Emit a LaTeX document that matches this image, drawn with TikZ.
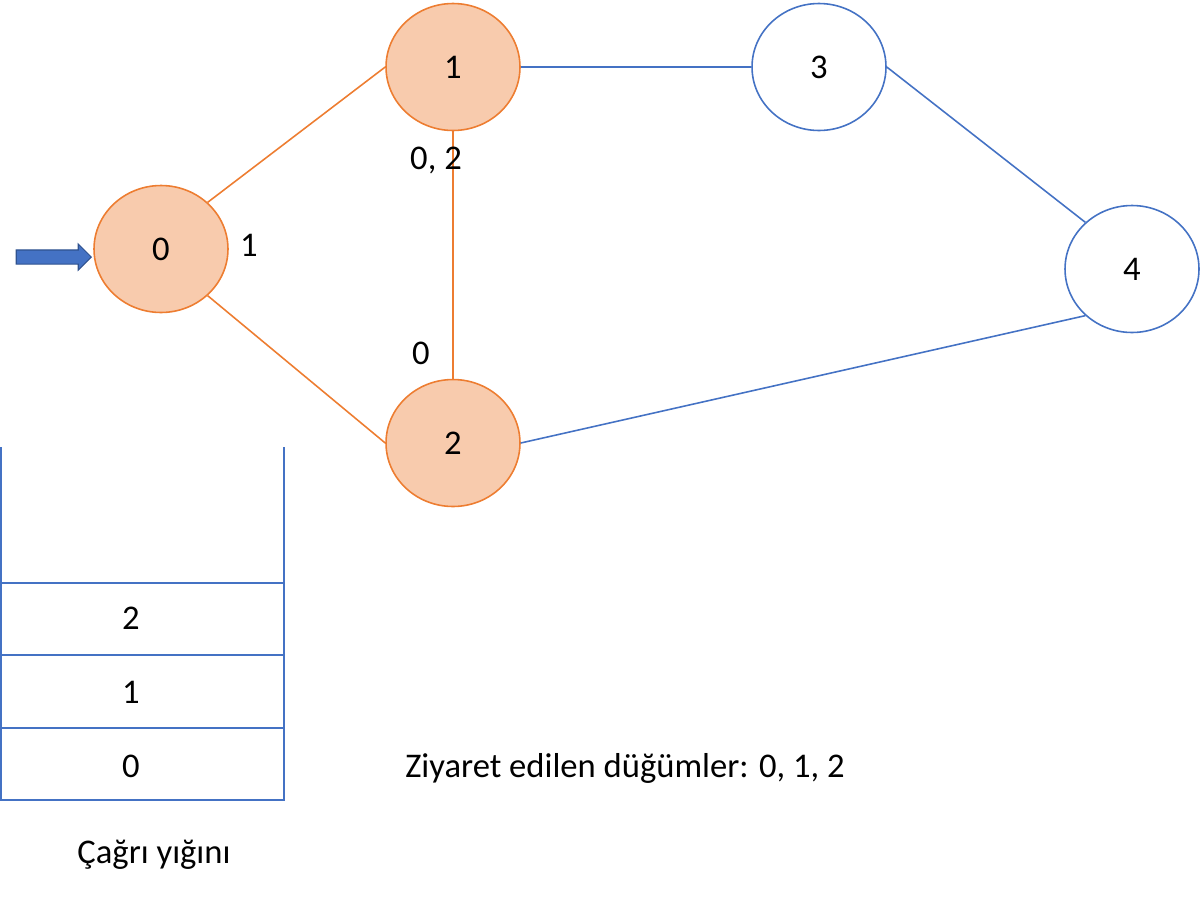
\documentclass[tikz,border=0pt]{standalone}
\usepackage{fontspec}
\setmainfont{Carlito}
\usetikzlibrary{shapes.geometric,shapes.arrows}
\definecolor{orline}{HTML}{ED7D31}
\definecolor{orfill}{HTML}{F8CBAD}
\definecolor{blline}{HTML}{4472C4}
\definecolor{bldark}{HTML}{2F528F}
\tikzset{
  visited/.style={ellipse,draw=orline,fill=orfill,line width=0.9pt,minimum width=2.68cm,minimum height=2.54cm,font=\fontsize{19.7}{22}\selectfont},
  unvisited/.style={ellipse,draw=blline,fill=white,line width=0.9pt,minimum width=2.68cm,minimum height=2.54cm,font=\fontsize{19.7}{22}\selectfont},
  lbl/.style={font=\fontsize{19.7}{22}\selectfont,inner sep=0pt},
  oredge/.style={orline,line width=0.9pt},
  bledge/.style={blline,line width=0.9pt}
}
\begin{document}
\begin{tikzpicture}[x=0.02cm,y=-0.02cm]
                \useasboundingbox (0,0) rectangle (1200,896);
                % graph
                \node[visited] (n0) at (161,249){0};
                \node[visited] (n1) at (453,67){1};
                \node[visited] (n2) at (453,443){2};
                \node[unvisited] (n3) at (819,67){3};
                \node[unvisited] (n4) at (1132,269){4};
                \draw[oredge] (n0.45)--(n1.west);
                \draw[oredge] (n0.-45)--(n2.west);
                \draw[oredge] (n1.south)--(n2.north);
                \draw[bledge] (n1.east)--(n3.west);
                \draw[bledge] (n3.east)--(n4.135);
                \draw[bledge] (n2.east)--(n4.225);
                \node[lbl] (l0) at (249,245){1};
                \node[lbl] (l1) at (436,160){0, 2};
                \node[lbl] (l2) at (421,353){0};
                \node[single arrow,draw=bldark,fill=blline,line width=0.6pt,minimum height=1.5cm,single arrow head extend=0.12cm,single arrow head indent=0cm,inner xsep=0pt,inner ysep=0.13cm,anchor=tip] (start) at (92,257){};
                % stack
                \draw[blline,line width=1.2pt] (1,447)--(1,800)--(284,800)--(284,447);
                \foreach \y in {583,655,728}
                    \draw[blline,line width=1.2pt] (1,\y)--(284,\y);
                \node[lbl] (s2) at (131,618){2};
                \node[lbl] (s1) at (131,692){1};
                \node[lbl] (s0) at (131,766){0};
                \node[lbl] (stack) at (154,855){Çağrı yığını};
                \node[lbl] (visit) at (625,768){Ziyaret edilen düğümler: 0, 1, 2};
            \end{tikzpicture}
\end{document}
